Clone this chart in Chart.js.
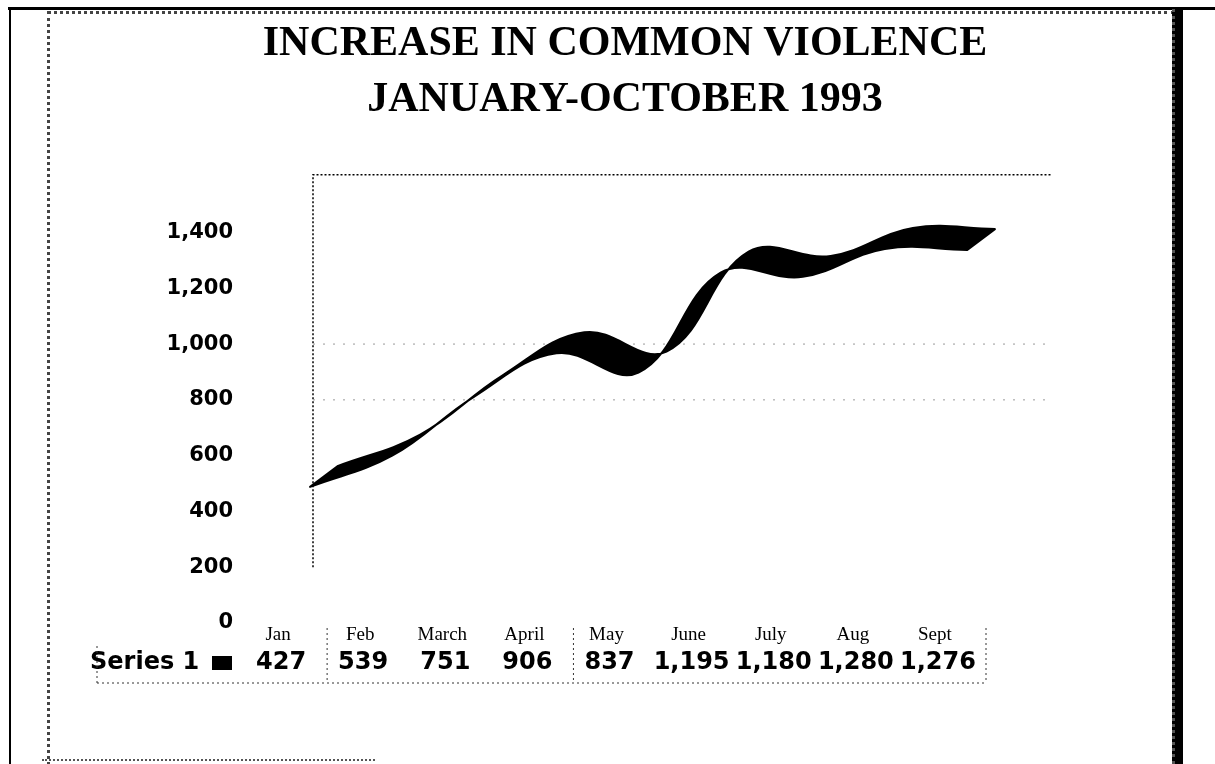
<!DOCTYPE html>
<html>
<head>
<meta charset="utf-8">
<title>Increase in common violence</title>
<script src="https://cdn.jsdelivr.net/npm/chart.js@4.4.0/dist/chart.umd.min.js"></script>
<style>
html, body { margin: 0; padding: 0; background: #fff; }
body { width: 1215px; height: 764px; position: relative; overflow: hidden; }
#chartBox { position: absolute; left: 50px; top: 0; width: 1150px; height: 764px; }
.topline { position: absolute; left: 8px; right: 0; top: 7px; height: 3px; background: #000; }
.leftline { position: absolute; left: 9px; top: 7px; bottom: 0; width: 2px; background: #000; }
.panel { position: absolute; left: 47px; top: 11px; width: 1125px; height: 800px; border-top: 3px dotted #444; border-left: 3px dotted #444; }
.rightbar { position: absolute; left: 1172px; top: 9px; bottom: 0; width: 8px; background: #000; border-left: 3px dotted #555; }
.bottomline { position: absolute; left: 42px; top: 759px; width: 333px; border-top: 2px dotted #555; }
</style>
</head>
<body>
<div class="topline"></div>
<div class="leftline"></div>
<div class="panel"></div>
<div class="rightbar"></div>
<div class="bottomline"></div>
<div id="chartBox"><canvas id="violenceChart" width="1150" height="764"></canvas></div>

<script>
// Datos del gráfico
const months = ['Jan', 'Feb', 'March', 'April', 'May', 'June', 'July', 'Aug', 'Sept'];
const series1 = [427, 539, 751, 906, 837, 1195, 1180, 1280, 1276];
const yTicks = [0, 200, 400, 600, 800, 1000, 1200, 1400];
const yGridLines = [800, 1000];
const yTop = 1600;
const seriesName = 'Series 1';

const fmt = v => v.toLocaleString('en-US');

// Cinta 3D + pared del fondo
const ribbon = {
    id: 'ribbon',
    beforeDatasetsDraw(chart, args, opts) {
        const {ctx, chartArea} = chart;
        const y = chart.scales.y;
        const wl = chartArea.left + opts.wall;
        const wr = chartArea.right + opts.wall;
        ctx.save();
        ctx.strokeStyle = '#000';
        ctx.lineWidth = 1.5;
        ctx.setLineDash([2, 2]);
        ctx.beginPath();
        ctx.moveTo(wl, y.getPixelForValue(yTicks[1]));
        ctx.lineTo(wl, chartArea.top - 2);
        ctx.lineTo(wr, chartArea.top - 2);
        ctx.stroke();
        ctx.strokeStyle = '#999';
        ctx.lineWidth = 1;
        ctx.setLineDash([2, 8]);
        yGridLines.forEach(v => {
            const py = y.getPixelForValue(v);
            ctx.beginPath();
            ctx.moveTo(wl, py);
            ctx.lineTo(wr, py);
            ctx.stroke();
        });
        ctx.restore();
    },
    afterDatasetsDraw(chart, args, opts) {
        const {ctx} = chart;
        const meta = chart.getDatasetMeta(0);
        const pts = meta.data;
        meta.dataset.updateControlPoints(chart.chartArea, 'x');
        const f = opts.front, b = opts.back;
        ctx.save();
        ctx.fillStyle = '#000';
        ctx.strokeStyle = '#000';
        ctx.lineWidth = 2;
        ctx.lineJoin = 'round';
        ctx.beginPath();
        ctx.moveTo(pts[0].x + f.x, pts[0].y + f.y);
        for (let i = 1; i < pts.length; i++) {
            const p = pts[i - 1], c = pts[i];
            ctx.bezierCurveTo(p.cp2x + f.x, p.cp2y + f.y, c.cp1x + f.x, c.cp1y + f.y, c.x + f.x, c.y + f.y);
        }
        const last = pts[pts.length - 1];
        ctx.lineTo(last.x + b.x, last.y + b.y);
        for (let i = pts.length - 1; i > 0; i--) {
            const c = pts[i], p = pts[i - 1];
            ctx.bezierCurveTo(c.cp1x + b.x, c.cp1y + b.y, p.cp2x + b.x, p.cp2y + b.y, p.x + b.x, p.y + b.y);
        }
        ctx.closePath();
        ctx.fill('nonzero');
        ctx.stroke();
        ctx.restore();
    }
};

// Tabla de datos bajo el eje
const dataTable = {
    id: 'dataTable',
    afterDraw(chart) {
        const {ctx, chartArea} = chart;
        const x = chart.scales.x;
        const rowY = chartArea.bottom + 40;
        const half = (x.getPixelForValue(1) - x.getPixelForValue(0)) / 2;
        ctx.save();
        ctx.fillStyle = '#000';
        ctx.font = 'bold 24px "DejaVu Sans"';
        ctx.textBaseline = 'middle';
        ctx.textAlign = 'left';
        ctx.fillText(seriesName, chartArea.left - 147, rowY);
        ctx.fillRect(chartArea.left - 25, rowY - 7, 20, 14);
        ctx.textAlign = 'center';
        series1.forEach((v, i) => {
            ctx.fillText(fmt(v), x.getPixelForValue(i) + 3, rowY);
        });
        // bordes punteados
        ctx.strokeStyle = '#333';
        ctx.lineWidth = 1;
        ctx.setLineDash([2, 3]);
        const bottom = chartArea.bottom + 60;
        ctx.beginPath();
        ctx.moveTo(chartArea.left - 140, bottom);
        ctx.lineTo(x.getPixelForValue(8) + half + 10, bottom);
        ctx.moveTo(chartArea.left - 140, bottom);
        ctx.lineTo(chartArea.left - 140, bottom - 38);
        [0, 3, 8].forEach(i => {
            const sx = x.getPixelForValue(i) + half + (i === 8 ? 10 : 8);
            ctx.moveTo(sx, chartArea.bottom + 5);
            ctx.lineTo(sx, bottom);
        });
        ctx.stroke();
        ctx.restore();
    }
};

const ctx1 = document.getElementById('violenceChart').getContext('2d');
const violenceChart = new Chart(ctx1, {
    type: 'line',
    data: {
        labels: months,
        datasets: [{
            label: seriesName,
            data: series1,
            borderWidth: 0,
            pointRadius: 0,
            tension: 0.4,
            fill: false
        }]
    },
    options: {
        responsive: false,
        animation: false,
        layout: { padding: 0 },
        plugins: {
            legend: { display: false },
            tooltip: { enabled: false },
            title: {
                display: true,
                text: ['INCREASE IN COMMON VIOLENCE', 'JANUARY-OCTOBER 1993'],
                color: '#000',
                font: { family: '"Liberation Serif"', size: 42, weight: 'bold', lineHeight: 1.33 },
                padding: { top: 16, bottom: 49 }
            },
            ribbon: {
                front: { x: 32, y: -17 },
                back: { x: 60, y: -38 },
                wall: 76
            }
        },
        scales: {
            x: {
                offset: true,
                grid: { display: false, drawTicks: false },
                border: { display: false },
                ticks: {
                    color: '#000',
                    font: { family: '"Liberation Serif"', size: 19 },
                    padding: 1,
                    maxRotation: 0,
                    autoSkip: false
                },
                afterFit: s => { s.height = 141; }
            },
            y: {
                min: 0,
                max: yTop,
                grid: { display: false, drawTicks: false },
                border: { display: false },
                ticks: {
                    stepSize: 200,
                    color: '#000',
                    padding: 4,
                    font: { family: '"DejaVu Sans"', size: 21, weight: 'bold' },
                    callback: v => yTicks.includes(v) ? fmt(v) : ''
                },
                afterFit: s => { s.width = 187; }
            },
            // espacio vacío a la derecha del área del gráfico
            yRight: {
                position: 'right',
                min: 0,
                max: yTop,
                grid: { display: false, drawTicks: false },
                border: { display: false },
                ticks: { display: false },
                afterFit: s => { s.width = 224; }
            }
        }
    },
    plugins: [ribbon, dataTable]
});
</script>
</body>
</html>
